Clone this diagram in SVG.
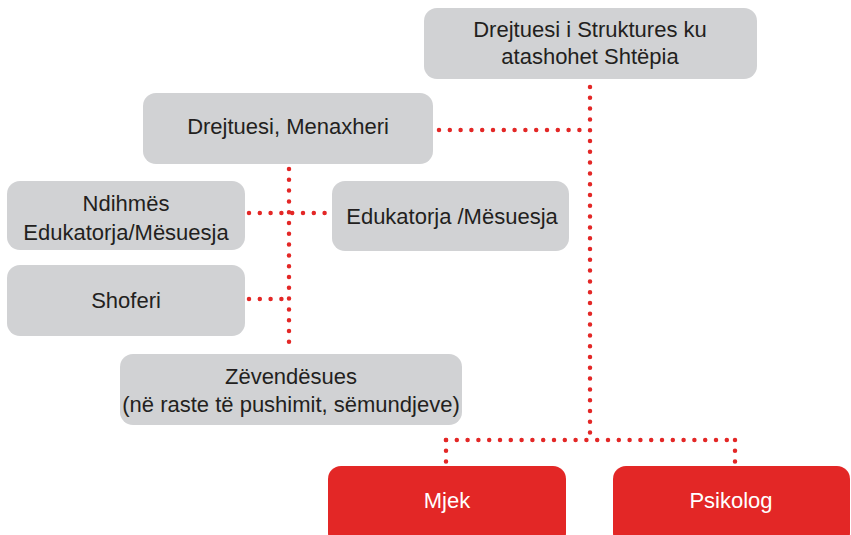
<svg xmlns="http://www.w3.org/2000/svg" width="851" height="535" viewBox="0 0 851 535">
<style>
.box{fill:#d1d2d4}
.red{fill:#e32726}
text{font-family:"Liberation Sans",Arial,sans-serif;font-size:22px;fill:#231f20;text-anchor:middle}
.w{fill:#ffffff}
.dot{fill:none;stroke:#e32726;stroke-width:4.5;stroke-linecap:round;stroke-dasharray:0 10.8}
</style>
<rect width="851" height="535" fill="#ffffff"/>
<g id="connectors">
<path class="dot" d="M590 87 V440"/>
<path class="dot" d="M439 130 H590"/>
<path class="dot" d="M289 169 V349"/>
<path class="dot" d="M249 213 H328"/>
<path class="dot" d="M249 299 H289"/>
<path class="dot" d="M446 440 H735"/>
<path class="dot" d="M446 440 V462"/>
<path class="dot" d="M735 440 V462"/>
</g>
<g id="n-struktura">
<rect class="box" x="424" y="8" width="333" height="71" rx="13"/>
<text x="590" y="37">Drejtuesi i Struktures ku</text>
<text x="590" y="64">atashohet Shtëpia</text>
</g>
<g id="n-menaxheri">
<rect class="box" x="143" y="93" width="290" height="71" rx="13"/>
<text x="288" y="134">Drejtuesi, Menaxheri</text>
</g>
<g id="n-ndihmes">
<rect class="box" x="7" y="181" width="238" height="69" rx="13"/>
<text x="126" y="211">Ndihmës</text>
<text x="126" y="240">Edukatorja/Mësuesja</text>
</g>
<g id="n-edukatorja">
<rect class="box" x="332" y="181" width="237" height="70" rx="13"/>
<text x="452" y="224">Edukatorja /Mësuesja</text>
</g>
<g id="n-shoferi">
<rect class="box" x="7" y="265" width="238" height="71" rx="13"/>
<text x="126" y="308">Shoferi</text>
</g>
<g id="n-zevendesues">
<rect class="box" x="120" y="354" width="342" height="71" rx="13"/>
<text x="291" y="384">Zëvendësues</text>
<text x="291" y="412">(në raste të pushimit, sëmundjeve)</text>
</g>
<g id="n-mjek">
<rect class="red" x="328" y="466" width="238" height="80" rx="13"/>
<text class="w" x="447" y="508">Mjek</text>
</g>
<g id="n-psikolog">
<rect class="red" x="613" y="466" width="237" height="80" rx="13"/>
<text class="w" x="731" y="508">Psikolog</text>
</g>
</svg>
